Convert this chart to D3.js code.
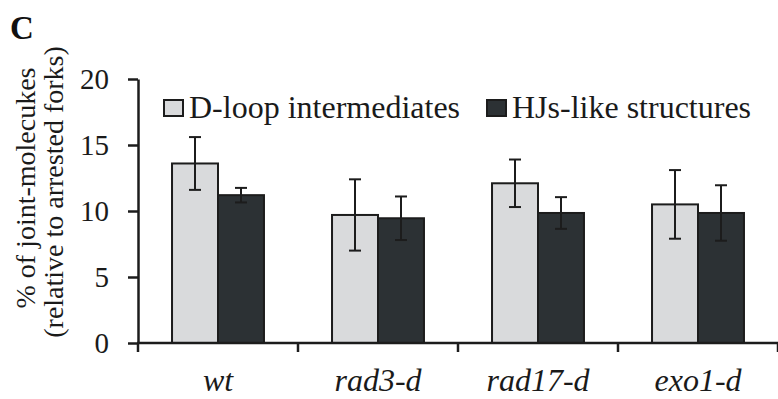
<!DOCTYPE html>
<html>
<head>
<meta charset="utf-8">
<script src="https://cdn.jsdelivr.net/npm/d3@7"></script>
<style>
  body { margin: 0; background: #fff; }
</style>
</head>
<body>
<div id="chart"></div>
<script>
const categories = ["wt", "rad3-d", "rad17-d", "exo1-d"];
const seriesNames = ["D-loop intermediates", "HJs-like structures"];
const dloopValues = [13.6, 9.7, 12.1, 10.5];
const dloopErrors = [2.0, 2.7, 1.8, 2.6];
const hjValues = [11.2, 9.45, 9.85, 9.85];
const hjErrors = [0.55, 1.65, 1.2, 2.1];
const yTicks = [0, 5, 10, 15, 20];

const WIDTH = 778, HEIGHT = 399;
const FONT = "Liberation Serif";
const plot = {left: 138, right: 778, top: 79, bottom: 343};
const fills = ["#d9dadc", "#2c3134"];
const stroke = "#1c1c1c";

const svg = d3.select("#chart").append("svg")
    .attr("width", WIDTH)
    .attr("height", HEIGHT)
    .style("display", "block");

const x0 = d3.scaleBand()
    .domain(categories)
    .range([plot.left, plot.right])
    .padding(0);

const x1 = d3.scaleBand()
    .domain(seriesNames)
    .range([0, x0.bandwidth()])
    .paddingInner(0)
    .paddingOuter(0.74);

const y = d3.scaleLinear()
    .domain([0, 20])
    .range([plot.bottom, plot.top]);

const rows = categories.map((c, i) => ({
    cat: c,
    values: [
        {s: seriesNames[0], v: dloopValues[i], e: dloopErrors[i]},
        {s: seriesNames[1], v: hjValues[i], e: hjErrors[i]}
    ]
}));

// bars
const groups = svg.selectAll("g.group")
    .data(rows)
    .enter().append("g")
    .attr("class", "group")
    .attr("transform", d => "translate(" + x0(d.cat) + ",0)");

groups.selectAll("rect")
    .data(d => d.values)
    .enter().append("rect")
    .attr("x", d => x1(d.s))
    .attr("y", d => y(d.v))
    .attr("width", x1.bandwidth())
    .attr("height", d => y(0) - y(d.v))
    .attr("fill", (d, i) => fills[i])
    .attr("stroke", stroke)
    .attr("stroke-width", 2);

// error bars
const err = groups.selectAll("g.err")
    .data(d => d.values)
    .enter().append("g")
    .attr("class", "err")
    .attr("stroke", stroke)
    .attr("stroke-width", 2);

err.append("line")
    .attr("x1", d => x1(d.s) + x1.bandwidth() / 2)
    .attr("x2", d => x1(d.s) + x1.bandwidth() / 2)
    .attr("y1", d => y(d.v + d.e))
    .attr("y2", d => y(d.v - d.e));

[1, -1].forEach(sign => {
    err.append("line")
        .attr("x1", d => x1(d.s) + x1.bandwidth() / 2 - 6)
        .attr("x2", d => x1(d.s) + x1.bandwidth() / 2 + 6)
        .attr("y1", d => y(d.v + sign * d.e))
        .attr("y2", d => y(d.v + sign * d.e));
});

// y axis
const yAxis = svg.append("g")
    .attr("transform", "translate(" + plot.left + ",0)")
    .call(d3.axisLeft(y).tickValues(yTicks).tickSize(10).tickSizeOuter(0).tickPadding(19));
yAxis.select(".domain").attr("stroke", stroke).attr("stroke-width", 2.5);
yAxis.selectAll(".tick line").attr("stroke", stroke).attr("stroke-width", 2.5);
yAxis.selectAll(".tick text")
    .attr("font-family", FONT)
    .attr("font-size", 29)
    .attr("fill", "#1a1a1a");

// x axis
const xg = svg.append("g");
xg.append("line")
    .attr("x1", plot.left - 1)
    .attr("x2", plot.right)
    .attr("y1", y(0))
    .attr("y2", y(0))
    .attr("stroke", stroke)
    .attr("stroke-width", 2.5);

xg.selectAll("line.tick")
    .data(categories.concat(["end"]))
    .enter().append("line")
    .attr("class", "tick")
    .attr("x1", (d, i) => i < categories.length ? x0(d) : plot.right)
    .attr("x2", (d, i) => i < categories.length ? x0(d) : plot.right)
    .attr("y1", y(0))
    .attr("y2", y(0) + 9)
    .attr("stroke", stroke)
    .attr("stroke-width", 2.5);

xg.selectAll("text")
    .data(categories)
    .enter().append("text")
    .attr("x", d => x0(d) + x0.bandwidth() / 2)
    .attr("y", 391)
    .attr("text-anchor", "middle")
    .attr("font-family", FONT)
    .attr("font-size", 32)
    .attr("font-style", "italic")
    .attr("fill", "#1a1a1a")
    .text(d => d);

// y title
const yTitle = svg.append("text")
    .attr("transform", "translate(35,188) rotate(-90)")
    .attr("text-anchor", "middle")
    .attr("font-family", FONT)
    .attr("font-size", 28)
    .attr("fill", "#1a1a1a");
yTitle.append("tspan").attr("x", 0).attr("dy", 0).text("% of joint-molecukes");
yTitle.append("tspan").attr("x", -4).attr("dy", 28).text("(relative to arrested forks)");

// legend
const legendPos = [{x: 164, tx: 189}, {x: 487, tx: 512}];
const legend = svg.selectAll("g.legend")
    .data(seriesNames)
    .enter().append("g")
    .attr("class", "legend");
legend.append("rect")
    .attr("x", (d, i) => legendPos[i].x)
    .attr("y", 100)
    .attr("width", 19)
    .attr("height", 16)
    .attr("fill", (d, i) => fills[i])
    .attr("stroke", stroke)
    .attr("stroke-width", 2);
legend.append("text")
    .attr("x", (d, i) => legendPos[i].tx)
    .attr("y", 118)
    .attr("font-family", FONT)
    .attr("font-size", 32)
    .attr("fill", "#1a1a1a")
    .text(d => d);

// panel letter
svg.append("text")
    .attr("x", 10)
    .attr("y", 39)
    .attr("font-family", FONT)
    .attr("font-size", 33)
    .attr("font-weight", "bold")
    .attr("fill", "#111")
    .text("C");
</script>
</body>
</html>
